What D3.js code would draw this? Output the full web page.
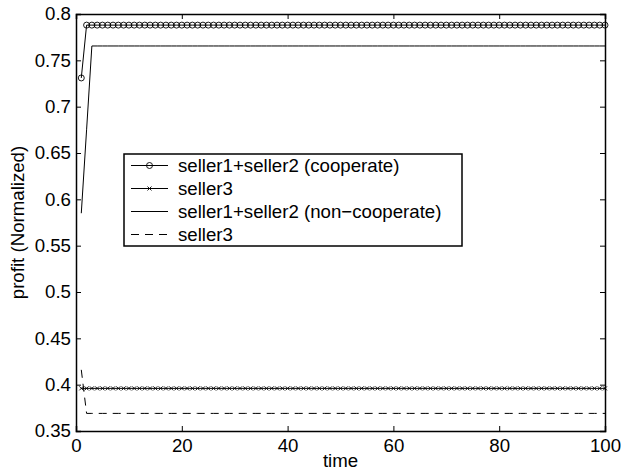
<!DOCTYPE html>
<html><head><meta charset="utf-8">
<script src="https://cdn.jsdelivr.net/npm/d3@7"></script>
<style>body{margin:0;background:#fff}svg{display:block}text{font-family:"Liberation Sans",Arial,sans-serif}</style>
</head><body>
<script>
// Data
const time = d3.range(1, 101);
const coopS12 = time.map(t => t === 1 ? 0.731 : 0.788);
const coopS3 = time.map(t => 0.396);
const nonS12 = time.map(t => t === 1 ? 0.585 : t === 2 ? 0.675 : 0.7655);
const nonS3 = time.map(t => t === 1 ? 0.416 : 0.369);
const xTicks = [0, 20, 40, 60, 80, 100];
const yTicks = [0.35, 0.4, 0.45, 0.5, 0.55, 0.6, 0.65, 0.7, 0.75, 0.8];
const legendLabels = ["seller1+seller2 (cooperate)", "seller3", "seller1+seller2 (non\u2212cooperate)", "seller3"];

const W = 621, H = 470;
const m = {l: 76, r: 16, t: 14, b: 39};
const svg = d3.select("body").append("svg").attr("width", W).attr("height", H);
const x = d3.scaleLinear().domain([0, 100]).range([m.l, W - m.r]);
const y = d3.scaleLinear().domain([0.35, 0.8]).range([H - m.b, m.t]);

const fs = 18.67;
const FF = '"Liberation Sans",Arial,sans-serif';
// axes
const gB = svg.append("g").attr("transform", `translate(0,${H - m.b})`)
  .call(d3.axisBottom(x).tickValues(xTicks).tickSize(-5).tickPadding(8).tickFormat(d3.format("d")));
const gT = svg.append("g").attr("transform", `translate(0,${m.t})`)
  .call(d3.axisTop(x).tickValues(xTicks).tickSize(-5).tickFormat(""));
const gL = svg.append("g").attr("transform", `translate(${m.l},0)`)
  .call(d3.axisLeft(y).tickValues(yTicks).tickSize(-5).tickPadding(5).tickFormat(d => String(+d.toFixed(2))));
const gR = svg.append("g").attr("transform", `translate(${W - m.r},0)`)
  .call(d3.axisRight(y).tickValues(yTicks).tickSize(-5).tickFormat(""));
[gB, gT, gL, gR].forEach(g => {
  g.attr("font-size", fs).attr("font-family", FF);
  g.selectAll("path.domain").attr("stroke", "#000").attr("stroke-width", 1.5);
  g.selectAll("line").attr("stroke", "#000");
  g.selectAll("text").attr("font-size", fs).attr("fill", "#000").style("font-family", FF);
});

svg.append("text").attr("x", x(50)).attr("y", H - 3).attr("text-anchor", "middle")
  .attr("font-size", fs).text("time");
svg.append("text").attr("transform", `translate(24,${(m.t + H - m.b) / 2}) rotate(-90)`)
  .attr("text-anchor", "middle").attr("font-size", fs).text("profit (Normalized)");

const line = d3.line().x((d, i) => x(time[i])).y(d => y(d));
const plot = svg.append("g");
plot.append("path").datum(nonS12).attr("d", line).attr("fill", "none").attr("stroke", "#000").attr("stroke-width", 1);
plot.append("path").datum(nonS3).attr("d", line).attr("fill", "none").attr("stroke", "#000").attr("stroke-width", 1).attr("stroke-dasharray", "8,6");
plot.append("path").datum(coopS12).attr("d", line).attr("fill", "none").attr("stroke", "#000").attr("stroke-width", 1);
plot.append("path").datum(coopS3).attr("d", line).attr("fill", "none").attr("stroke", "#000").attr("stroke-width", 1);
plot.selectAll("circle.m").data(coopS12).join("circle").attr("class", "m")
  .attr("cx", (d, i) => x(time[i])).attr("cy", d => y(d)).attr("r", 3)
  .attr("fill", "none").attr("stroke", "#000").attr("stroke-width", 0.9);
const xs = 2;
plot.selectAll("path.xm").data(coopS3).join("path").attr("class", "xm")
  .attr("d", (d, i) => { const cx = x(time[i]), cy = y(d); return `M${cx - xs},${cy - xs}L${cx + xs},${cy + xs}M${cx - xs},${cy + xs}L${cx + xs},${cy - xs}`; })
  .attr("stroke", "#000").attr("stroke-width", 0.9);

// legend
const lg = svg.append("g").attr("transform", "translate(124,154)");
lg.append("rect").attr("width", 338).attr("height", 92).attr("fill", "#fff").attr("stroke", "#000").attr("stroke-width", 1.5);
legendLabels.forEach((lab, i) => {
  const yy = 11.5 + i * 23;
  const l = lg.append("line").attr("x1", 7).attr("x2", 44).attr("y1", yy).attr("y2", yy).attr("stroke", "#000").attr("stroke-width", 1);
  if (i === 3) l.attr("stroke-dasharray", "8,6");
  const mx = 25.5;
  if (i === 0) lg.append("circle").attr("cx", mx).attr("cy", yy).attr("r", 3).attr("fill", "none").attr("stroke", "#000").attr("stroke-width", 0.9);
  if (i === 1) lg.append("path").attr("d", `M${mx - xs},${yy - xs}L${mx + xs},${yy + xs}M${mx - xs},${yy + xs}L${mx + xs},${yy - xs}`).attr("stroke", "#000").attr("stroke-width", 0.9);
  lg.append("text").attr("x", 54).attr("y", yy + 6.5).attr("font-size", fs).text(lab);
});
</script>
</body></html>
